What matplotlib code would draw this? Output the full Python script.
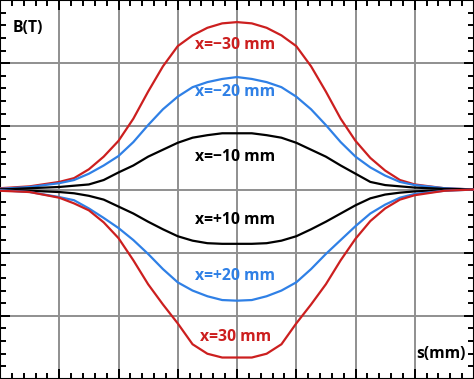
import matplotlib
matplotlib.use("Agg")
import matplotlib.pyplot as plt
from matplotlib.ticker import MultipleLocator

# s positions (one grid cell = 1 unit)
s = [-4.0, -3.5, -3.0, -2.75, -2.5, -2.25, -2.0, -1.75, -1.5, -1.25, -1.0, -0.75, -0.5, -0.25, 0.0,
     0.25, 0.5, 0.75, 1.0, 1.25, 1.5, 1.75, 2.0, 2.25, 2.5, 2.75, 3.0, 3.5, 4.0]

b_m30 = [0.02, 0.05, 0.12, 0.18, 0.32, 0.52, 0.77, 1.12, 1.55, 1.95, 2.27, 2.44, 2.56, 2.63, 2.65,
         2.63, 2.56, 2.44, 2.27, 1.95, 1.55, 1.12, 0.77, 0.50, 0.30, 0.15, 0.08, 0.02, 0.0]
b_m20 = [0.01, 0.04, 0.10, 0.15, 0.25, 0.38, 0.53, 0.75, 1.02, 1.27, 1.47, 1.62, 1.70, 1.75, 1.78,
         1.75, 1.70, 1.62, 1.47, 1.27, 1.02, 0.75, 0.52, 0.35, 0.22, 0.12, 0.07, 0.02, 0.0]
b_m10 = [0.0, 0.02, 0.04, 0.06, 0.08, 0.15, 0.27, 0.38, 0.52, 0.63, 0.74, 0.82, 0.86, 0.89, 0.89,
         0.89, 0.86, 0.82, 0.74, 0.63, 0.52, 0.38, 0.25, 0.12, 0.07, 0.05, 0.03, 0.01, 0.0]
b_p10 = [0.0, -0.02, -0.04, -0.06, -0.10, -0.16, -0.27, -0.38, -0.51, -0.63, -0.74, -0.81, -0.85, -0.86, -0.86,
         -0.86, -0.85, -0.81, -0.74, -0.63, -0.51, -0.38, -0.25, -0.14, -0.08, -0.05, -0.03, -0.01, 0.0]
b_p20 = [-0.01, -0.04, -0.12, -0.17, -0.30, -0.45, -0.61, -0.80, -1.02, -1.26, -1.47, -1.60, -1.69, -1.75, -1.76,
         -1.75, -1.69, -1.60, -1.47, -1.26, -1.02, -0.80, -0.58, -0.38, -0.24, -0.13, -0.07, -0.02, 0.0]
b_p30 = [-0.02, -0.04, -0.13, -0.22, -0.33, -0.52, -0.77, -1.12, -1.50, -1.82, -2.12, -2.45, -2.60, -2.66, -2.66,
         -2.66, -2.60, -2.45, -2.12, -1.82, -1.50, -1.12, -0.78, -0.50, -0.30, -0.16, -0.09, -0.02, 0.0]

labels = ["x=\u221230 mm", "x=\u221220 mm", "x=\u221210 mm", "x=+10 mm", "x=+20 mm", "x=30 mm"]
label_y = [2.29, 1.54, 0.51, -0.49, -1.37, -2.33]

red = "#cc1f1f"
blue = "#2f80e6"
colors = [red, blue, "black", "black", blue, red]
series = [b_m30, b_m20, b_m10, b_p10, b_p20, b_p30]

fig = plt.figure(figsize=(4.74, 3.79), dpi=100)
ax = fig.add_axes([0, 0, 1, 1])

for b, c in zip(series, colors):
    ax.plot(s, b, color=c, lw=1.6, zorder=3)

for txt, y, c in zip(labels, label_y, colors):
    ax.text(-0.03, y, txt, color=c, fontsize=11.3, fontweight="bold", family="Open Sans",
            ha="center", va="center", zorder=4)

ax.text(-3.53, 2.56, "B(T)", fontsize=11.3, fontweight="bold", family="Open Sans",
        ha="center", va="center")
ax.text(3.44, -2.60, "s(mm)", fontsize=11.3, fontweight="bold", family="Open Sans",
        ha="center", va="center")

ax.set_xlim(-4, 4)
ax.set_ylim(-3, 3)
ax.xaxis.set_major_locator(MultipleLocator(1))
ax.xaxis.set_minor_locator(MultipleLocator(0.2))
ax.yaxis.set_major_locator(MultipleLocator(1))
ax.yaxis.set_minor_locator(MultipleLocator(0.2))
ax.grid(True, which="major", color="#8f8f8f", lw=1.4, zorder=1)
ax.tick_params(which="both", direction="in", top=True, right=True,
               labelbottom=False, labelleft=False, width=1.4, color="black")
ax.tick_params(which="major", length=7.5)
ax.tick_params(which="minor", length=4.5)
for sp in ax.spines.values():
    sp.set_linewidth(1.5)

fig.savefig("out.png", dpi=100)
